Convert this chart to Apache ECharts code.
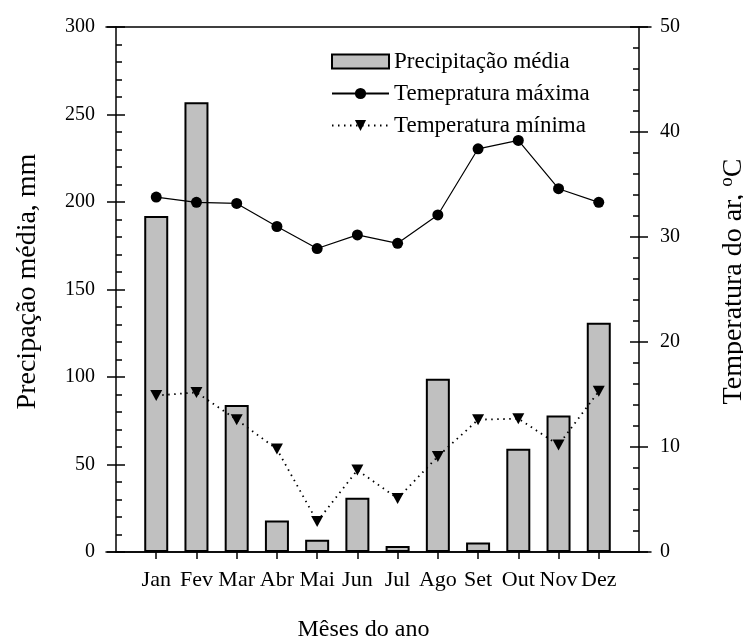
<!DOCTYPE html>
<html>
<head>
<meta charset="utf-8">
<script src="https://cdn.jsdelivr.net/npm/echarts@6/dist/echarts.min.js"></script>
<style>
html,body{margin:0;padding:0;background:#fff;}
#c{width:743px;height:640px;}
</style>
</head>
<body>
<div id="c"></div>
<script>
const months = ['Jan','Fev','Mar','Abr','Mai','Jun','Jul','Ago','Set','Out','Nov','Dez'];
const precip = [192, 257, 84, 18, 7, 31, 3.5, 99, 5.5, 59, 78, 131];
const tmax = [33.8, 33.3, 33.2, 31.0, 28.9, 30.2, 29.4, 32.1, 38.4, 39.2, 34.6, 33.3];
const tmin = [14.9, 15.2, 12.6, 9.8, 2.9, 7.8, 5.1, 9.1, 12.6, 12.7, 10.2, 15.3];
const leftTicks = {min: 0, max: 300, interval: 50};
const rightTicks = {min: 0, max: 50, interval: 10};

const cats = [''].concat(months, ['']);
const pad = a => [null].concat(a, [null]);
const FONT = 'Liberation Serif, Times New Roman, serif';
const axisCol = '#000';

const chart = echarts.init(document.getElementById('c'), null, {renderer: 'canvas'});
const triPath = 'path://M0,0 L10,0 L5,9 Z';

chart.setOption({
  animation: false,
  backgroundColor: '#fff',
  textStyle: {fontFamily: FONT, color: '#000'},
  legend: {
    orient: 'vertical',
    left: 326, top: 45,
    itemWidth: 57, itemHeight: 14, itemGap: 9,
    textStyle: {fontFamily: FONT, fontSize: 23, color: '#000'},
    data: [
      {name: 'Precipitação média', icon: 'rect'},
      'Temepratura máxima',
      'Temperatura mínima'
    ]
  },
  grid: [
    {left: 116, right: 104, top: 27, bottom: 88, outerBoundsMode: 'none', containLabel: false},
    {left: 106, right: 92, top: 27, bottom: 88, outerBoundsMode: 'none', containLabel: false}
  ],
  xAxis: [
    {
      type: 'category', gridIndex: 0, data: cats, boundaryGap: false,
      axisLine: {lineStyle: {color: axisCol, width: 1.5}},
      axisTick: {show: true, inside: false, length: 7, lineStyle: {color: axisCol, width: 1.5},
        interval: (i, v) => v !== ''},
      axisLabel: {interval: 0, fontFamily: FONT, fontSize: 22, color: '#000', margin: 17},
      splitLine: {show: false},
      name: 'Mêses do ano', nameLocation: 'middle', nameGap: 66,
      nameTextStyle: {fontFamily: FONT, fontSize: 24, color: '#000', padding: [0, 28, 0, 0]}
    },
    {
      type: 'value', gridIndex: 1, position: 'bottom', min: 0, max: 1,
      axisLine: {show: true, lineStyle: {color: axisCol, width: 1.5}},
      axisTick: {show: false}, axisLabel: {show: false}, splitLine: {show: false}
    },
    {
      type: 'value', gridIndex: 1, position: 'top', min: 0, max: 1,
      axisLine: {show: true, onZero: false, lineStyle: {color: axisCol, width: 1.5}},
      axisTick: {show: false}, axisLabel: {show: false}, splitLine: {show: false}
    }
  ],
  yAxis: [
    {
      type: 'value', gridIndex: 0, position: 'left',
      min: leftTicks.min, max: leftTicks.max, interval: leftTicks.interval,
      axisLine: {show: true, lineStyle: {color: axisCol, width: 1.5}},
      axisTick: {show: true, inside: true, length: 9, lineStyle: {color: axisCol, width: 1.5}},
      minorTick: {show: true, splitNumber: 5, length: 6, lineStyle: {color: axisCol, width: 1.5}},
      axisLabel: {fontFamily: FONT, fontSize: 20, color: '#000', margin: 21},
      splitLine: {show: false},
      name: 'Precipação média, mm', nameLocation: 'middle', nameGap: 74,
      nameTextStyle: {fontFamily: FONT, fontSize: 28, color: '#000', padding: [0, 0, 0, 16]}
    },
    {
      type: 'value', gridIndex: 0, position: 'right',
      min: rightTicks.min, max: rightTicks.max, interval: rightTicks.interval,
      axisLine: {show: true, lineStyle: {color: axisCol, width: 1.5}},
      axisTick: {show: true, inside: true, length: 9, lineStyle: {color: axisCol, width: 1.5}},
      minorTick: {show: true, splitNumber: 5, length: 6, lineStyle: {color: axisCol, width: 1.5}},
      axisLabel: {fontFamily: FONT, fontSize: 20, color: '#000', margin: 21},
      splitLine: {show: false},
      name: 'Temperatura do ar, {sup|o}C', nameLocation: 'middle', nameGap: 79,
      nameTextStyle: {fontFamily: FONT, fontSize: 28, color: '#000', padding: [0, 0, 0, 16],
        rich: {sup: {fontFamily: FONT, fontSize: 19, verticalAlign: 'top', padding: [0, 0, 13, 0]}}}
    },
    {
      type: 'value', gridIndex: 0, position: 'left',
      min: leftTicks.min, max: leftTicks.max, interval: leftTicks.interval,
      axisLine: {show: false},
      axisTick: {show: true, inside: false, length: 9, lineStyle: {color: axisCol, width: 1.5}},
      axisLabel: {show: false}, splitLine: {show: false}
    },
    {
      type: 'value', gridIndex: 0, position: 'right',
      min: rightTicks.min, max: rightTicks.max, interval: rightTicks.interval,
      axisLine: {show: false},
      axisTick: {show: true, inside: false, length: 9, lineStyle: {color: axisCol, width: 1.5}},
      axisLabel: {show: false}, splitLine: {show: false}
    },
    {
      type: 'value', gridIndex: 1, show: false, min: 0, max: 1
    }
  ],
  series: [
    {
      name: 'Precipitação média', type: 'bar', xAxisIndex: 0, yAxisIndex: 0,
      data: pad(precip), barWidth: 24,
      itemStyle: {color: '#c0c0c0', borderColor: '#000', borderWidth: 2},
      z: 2
    },
    {
      name: 'Temepratura máxima', type: 'line', xAxisIndex: 0, yAxisIndex: 1,
      data: pad(tmax), symbol: 'circle', symbolSize: 11,
      itemStyle: {color: '#000'},
      lineStyle: {color: '#000', width: 1.2},
      z: 3
    },
    {
      name: 'Temperatura mínima', type: 'line', xAxisIndex: 0, yAxisIndex: 1,
      data: pad(tmin), symbol: triPath, symbolSize: [12, 11],
      itemStyle: {color: '#000'},
      lineStyle: {color: '#000', width: 1.8, type: [1.5, 4.5]},
      z: 3
    }
  ]
});
</script>
</body>
</html>
